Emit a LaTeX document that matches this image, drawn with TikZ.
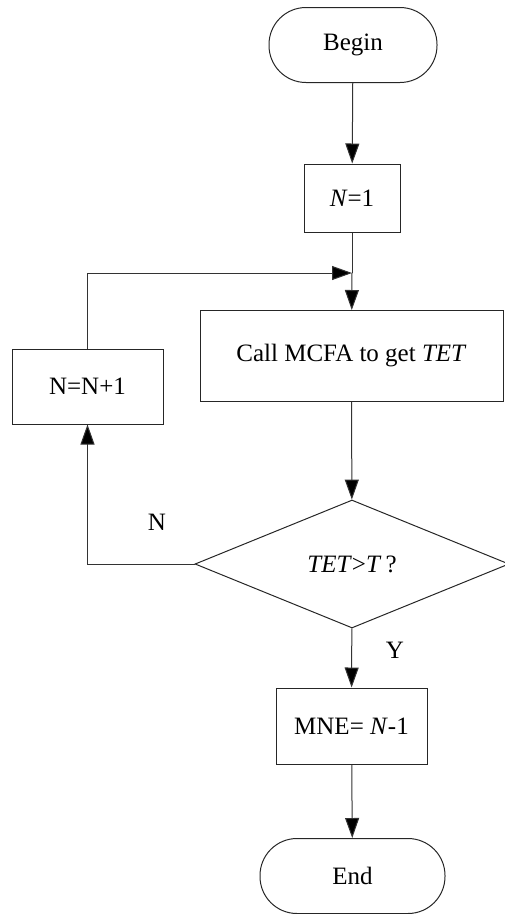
\documentclass[tikz,border=0pt]{standalone}
\usepackage{fontspec}
\setmainfont{Liberation Serif}
\usetikzlibrary{shapes.geometric,arrows.meta}
\begin{document}
\begin{tikzpicture}[x=1pt,y=-1pt,
  every node/.style={font=\fontsize{25}{30}\selectfont, inner sep=0pt},
  line/.style={draw=black!80, line width=1pt},
  arr/.style={line, -{Triangle[length=20pt,width=14pt,fill=black]}},
  term/.style={draw=black!85, line width=1pt, rounded corners=37pt, minimum width=#1, minimum height=75pt},
  procbox/.style={draw=black!85, line width=1pt},
  decide/.style={draw=black!85, line width=1pt, diamond, minimum width=314pt, minimum height=128pt}]
\useasboundingbox (0,0) rectangle (505,914);
% main column
\node[term=168pt] (begin) at (353,45) {Begin};
\node[procbox, minimum width=96pt, minimum height=68pt] (n1) at (352,198) {\textit{N}=1};
\node[procbox, minimum width=303pt, minimum height=91pt] (call) at (351.5,356) {Call MCFA to get \textit{TET}};
\node[decide] (dec) at (352,564) {\textit{TET}>\textit{T}\,?};
\node[procbox, minimum width=151pt, minimum height=76pt] (mne) at (351.5,726) {MNE= \textit{N}-1};
\node[term=185pt] (end) at (352.5,876) {End};
% loop-back box
\node[procbox, minimum width=151pt, minimum height=75pt] (inc) at (87.5,386.5) {N=N+1};
\coordinate (j) at (352,273);
% connectors
\draw[arr] (begin) -- (n1);
\draw[line] (n1) -- (j);
\draw[arr] (j) -- (call);
\draw[arr] (call) -- (dec);
\draw[arr] (dec) -- (mne);
\draw[arr] (mne) -- (end);
\draw[arr] (dec.west) -| (inc.south);
\draw[arr] (inc.north) |- (j);
% branch labels
\node (lblN) at (157,522) {N};
\node (lblY) at (395,650) {Y};
\end{tikzpicture}
\end{document}
